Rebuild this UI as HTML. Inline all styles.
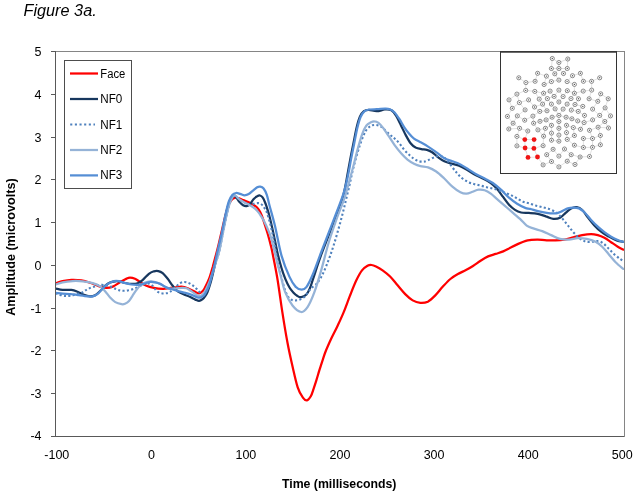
<!DOCTYPE html>
<html lang="en">
<head>
<meta charset="utf-8">
<title>Figure 3a</title>
<style>
html,body{margin:0;padding:0;background:#fff;}
body{width:637px;height:495px;overflow:hidden;font-family:"Liberation Sans", sans-serif;}
svg{display:block;}
text{font-family:"Liberation Sans", sans-serif;fill:#000;}
.tk{font-size:12.5px;}
.ax{font-size:12.5px;font-weight:bold;}
.lg{font-size:12px;}
.ln{fill:none;stroke-width:2.25;stroke-linejoin:round;stroke-linecap:round;}
</style>
</head>
<body>
<svg width="637" height="495" viewBox="0 0 637 495">
<rect width="637" height="495" fill="#fff"/>
<text x="23.5" y="16.3" font-size="15.6" font-style="italic" textLength="73.2" lengthAdjust="spacingAndGlyphs">Figure 3a.</text>

<!-- series -->
<g clip-path="url(#pc)">
<path class="ln" stroke="#ff0000" d="M55.7 283.2C56.9 282.9 60.0 281.7 62.6 281.1C65.2 280.5 68.3 279.9 71.4 279.8C74.5 279.7 78.1 279.8 81.4 280.4C84.8 281.0 88.3 282.2 91.5 283.2C94.7 284.2 97.8 285.8 100.3 286.6C102.8 287.4 104.4 287.9 106.5 287.9C108.6 287.9 110.5 287.6 112.8 286.6C115.1 285.6 118.1 283.3 120.4 282.0C122.7 280.7 125.0 279.3 126.6 278.6C128.2 277.9 128.6 277.7 130.0 277.7C131.4 277.7 133.3 278.1 135.0 278.8C136.7 279.5 138.2 280.8 140.1 282.0C142.0 283.2 144.1 284.8 146.4 285.8C148.7 286.8 151.2 287.4 153.9 287.9C156.6 288.4 160.2 288.8 162.7 288.9C165.2 289.0 166.9 288.6 169.0 288.3C171.1 288.1 173.2 287.7 175.3 287.4C177.4 287.1 179.4 286.5 181.5 286.6C183.6 286.8 185.7 287.5 187.8 288.3C189.9 289.1 192.2 290.6 194.1 291.4C196.0 292.2 197.6 293.4 199.1 293.3C200.6 293.2 201.9 291.8 202.9 290.8C203.9 289.9 204.0 289.6 205.0 287.6C206.0 285.6 207.7 282.4 209.0 279.0C210.3 275.6 211.5 271.0 212.7 267.0C213.8 263.0 214.9 258.7 215.9 255.0C216.9 251.3 217.5 249.2 218.5 245.0C219.5 240.8 220.8 235.2 222.0 230.0C223.2 224.8 224.6 218.3 225.8 214.0C227.0 209.7 227.9 206.4 229.0 204.0C230.1 201.6 231.1 200.4 232.2 199.3C233.3 198.2 234.5 197.8 235.5 197.6C236.5 197.4 236.8 197.7 238.1 198.1C239.4 198.5 241.5 199.4 243.2 200.1C244.9 200.8 246.5 201.3 248.2 202.1C249.9 202.9 251.8 203.8 253.3 204.7C254.8 205.6 256.1 206.4 257.3 207.7C258.5 208.9 259.4 210.4 260.3 212.2C261.2 214.0 262.0 215.9 262.8 218.3C263.6 220.7 264.5 223.7 265.4 226.4C266.2 229.1 267.1 231.7 267.9 234.5C268.7 237.3 269.6 240.6 270.3 243.5C271.0 246.4 271.2 246.3 272.3 252.0C273.4 257.7 275.5 267.5 277.2 277.5C278.9 287.5 280.6 300.9 282.3 311.8C284.0 322.7 285.8 333.6 287.5 342.7C289.2 351.8 290.9 359.3 292.6 366.7C294.3 374.1 296.0 382.1 297.7 387.3C299.4 392.5 301.3 395.4 302.9 397.6C304.4 399.8 305.7 400.5 307.0 400.3C308.3 400.1 309.7 398.2 310.8 396.3C311.9 394.4 312.6 391.9 313.5 389.2C314.4 386.4 315.5 383.0 316.5 379.8C317.5 376.6 318.4 373.4 319.4 370.2C320.4 367.0 321.4 363.8 322.4 360.8C323.4 357.8 323.9 355.8 325.4 352.0C326.9 348.2 329.4 342.6 331.4 338.3C333.4 334.0 335.4 330.5 337.4 326.2C339.4 321.9 341.4 317.7 343.5 312.6C345.6 307.6 347.8 301.2 349.9 295.9C352.0 290.6 354.1 285.1 356.1 280.8C358.1 276.6 360.1 272.9 362.0 270.4C363.9 267.9 365.9 266.7 367.5 265.8C369.1 264.9 370.1 264.9 371.5 265.0C372.9 265.1 374.1 265.5 376.0 266.4C377.9 267.3 380.2 268.6 382.6 270.3C385.0 272.0 387.6 274.0 390.1 276.5C392.6 279.0 395.1 282.4 397.6 285.3C400.1 288.2 402.7 291.6 405.2 294.1C407.7 296.6 410.2 298.9 412.7 300.4C415.2 301.9 417.8 302.7 420.3 302.9C422.8 303.1 425.3 302.9 427.8 301.7C430.3 300.4 432.8 297.9 435.3 295.4C437.8 292.9 440.4 289.3 442.9 286.6C445.4 283.9 447.9 281.1 450.4 279.0C452.9 276.9 455.4 275.4 457.9 274.0C460.4 272.6 463.0 271.6 465.5 270.3C468.0 269.0 470.5 267.6 473.0 266.0C475.5 264.4 478.1 262.3 480.6 260.7C483.1 259.1 485.6 257.5 488.1 256.4C490.6 255.3 493.1 254.7 495.6 253.9C498.1 253.1 500.7 252.5 503.2 251.4C505.7 250.3 508.2 248.8 510.7 247.6C513.2 246.3 515.7 245.0 518.2 243.9C520.7 242.8 523.8 241.5 525.8 240.9C527.8 240.3 528.0 240.3 530.0 240.1C532.0 239.9 535.0 239.5 537.8 239.6C540.6 239.7 543.7 240.3 546.7 240.4C549.7 240.5 552.7 240.5 555.6 240.4C558.5 240.3 561.5 240.1 564.4 239.6C567.3 239.1 570.3 238.1 573.3 237.3C576.3 236.6 579.2 235.7 582.2 235.1C585.2 234.5 588.5 234.0 591.1 234.0C593.7 234.0 595.6 234.5 597.8 235.1C600.0 235.7 602.2 236.6 604.4 237.8C606.6 239.0 608.9 240.7 611.1 242.2C613.3 243.7 615.8 245.5 617.8 246.7C619.8 247.9 622.4 249.1 623.3 249.6"/>
<path class="ln" stroke="#17375e" d="M55.7 288.6C56.9 288.8 60.0 289.7 62.6 289.9C65.2 290.1 68.9 289.6 71.4 289.9C73.9 290.2 75.5 290.9 77.6 291.7C79.7 292.5 81.8 294.1 83.9 294.9C86.0 295.7 88.3 296.3 90.2 296.4C92.1 296.4 93.5 296.1 95.2 295.2C96.9 294.3 98.6 292.4 100.3 290.8C102.0 289.2 103.7 287.1 105.3 285.7C106.9 284.3 108.4 283.2 110.0 282.5C111.6 281.8 113.3 281.5 115.0 281.3C116.7 281.1 118.3 281.2 120.0 281.5C121.7 281.8 122.9 282.6 125.0 283.0C127.1 283.4 130.4 283.9 132.5 283.9C134.6 283.9 135.9 283.8 137.6 283.2C139.3 282.6 140.7 281.7 142.6 280.1C144.5 278.5 147.0 275.3 148.9 273.8C150.8 272.3 152.3 271.8 153.9 271.3C155.5 270.9 156.8 270.8 158.3 271.1C159.8 271.4 161.1 271.9 162.7 273.2C164.3 274.5 166.0 276.7 167.7 278.8C169.4 280.9 171.0 283.7 172.7 285.8C174.4 287.9 175.9 289.9 177.8 291.4C179.7 292.8 181.9 293.6 184.0 294.5C186.1 295.4 188.4 296.2 190.3 297.1C192.2 298.0 193.8 299.0 195.3 299.6C196.8 300.2 197.8 300.9 199.1 300.8C200.4 300.7 201.9 299.6 202.9 298.9C203.9 298.2 204.2 297.5 205.0 296.4C205.8 295.2 206.6 294.2 207.5 292.0C208.4 289.8 209.5 286.5 210.5 283.0C211.5 279.5 212.5 275.2 213.5 271.0C214.5 266.8 215.7 261.5 216.5 258.0C217.3 254.5 217.6 253.8 218.5 250.0C219.4 246.2 220.8 240.8 222.0 235.0C223.2 229.2 224.6 220.3 225.8 215.0C227.0 209.7 227.9 206.0 229.0 203.0C230.1 200.0 231.5 198.2 232.5 197.0C233.5 195.8 233.9 195.3 235.0 196.0C236.1 196.7 237.5 199.7 238.8 201.2C240.2 202.7 241.8 204.4 243.1 205.2C244.4 206.0 245.4 206.3 246.6 206.1C247.8 205.9 248.9 205.2 250.1 204.0C251.3 202.8 252.5 200.4 253.7 199.1C254.9 197.8 256.1 196.9 257.2 196.3C258.2 195.7 259.1 195.3 260.0 195.5C260.9 195.7 261.9 196.3 262.8 197.7C263.8 199.1 264.6 201.1 265.7 204.0C266.8 206.9 268.1 211.5 269.2 215.3C270.2 219.1 271.0 222.7 272.0 227.0C273.0 231.3 274.0 236.3 275.0 241.0C276.0 245.7 276.9 250.5 278.0 255.0C279.1 259.5 280.3 264.0 281.5 268.0C282.7 272.0 284.1 275.9 285.4 279.2C286.7 282.4 288.2 285.3 289.5 287.5C290.8 289.7 292.0 291.0 293.3 292.4C294.6 293.8 296.2 295.2 297.5 296.0C298.8 296.8 299.7 297.4 301.2 297.1C302.7 296.9 304.9 296.0 306.4 294.5C307.9 293.0 308.9 290.6 310.0 288.0C311.1 285.4 311.8 282.7 313.0 279.2C314.2 275.7 315.7 270.9 317.0 267.0C318.3 263.1 318.9 261.0 320.9 255.6C322.9 250.2 326.3 241.6 329.0 234.6C331.7 227.6 334.6 220.2 337.0 213.6C339.4 207.0 341.7 201.4 343.4 195.0C345.1 188.6 346.3 180.9 347.4 175.0C348.5 169.1 349.2 164.8 350.2 159.6C351.2 154.3 352.3 148.9 353.4 143.5C354.5 138.1 355.6 131.8 356.7 127.3C357.8 122.8 358.7 119.5 359.9 116.8C361.1 114.1 362.4 112.3 363.9 111.2C365.4 110.1 366.6 109.9 368.8 109.9C371.0 109.9 374.1 111.3 376.8 111.2C379.5 111.1 382.5 109.7 384.9 109.5C387.3 109.3 389.5 109.2 391.4 110.3C393.3 111.4 394.6 113.4 396.2 116.0C397.8 118.6 399.5 122.5 401.1 125.7C402.7 128.9 404.3 132.4 405.9 135.4C407.5 138.4 409.2 141.5 410.8 143.5C412.4 145.5 413.9 146.6 415.6 147.5C417.4 148.4 419.4 148.7 421.3 149.1C423.2 149.5 425.1 149.4 426.9 149.9C428.7 150.4 430.2 151.0 432.1 152.2C434.0 153.4 436.2 155.8 438.2 157.3C440.2 158.8 442.3 160.3 444.3 161.3C446.3 162.3 448.0 162.7 450.3 163.4C452.6 164.1 455.7 164.4 458.4 165.4C461.1 166.4 463.8 167.9 466.5 169.4C469.2 170.9 471.9 173.0 474.6 174.5C477.3 176.0 480.0 177.1 482.7 178.5C485.4 179.9 488.4 181.3 490.8 183.0C493.2 184.7 494.8 186.3 496.8 188.6C498.8 190.9 500.9 194.0 502.9 196.7C504.9 199.4 507.0 202.6 509.0 204.8C511.0 207.0 513.0 208.6 515.0 209.9C517.0 211.2 518.8 212.0 521.1 212.5C523.4 213.0 526.1 212.7 528.9 212.9C531.7 213.1 534.8 213.2 537.8 213.8C540.8 214.4 544.1 215.8 546.7 216.7C549.3 217.5 551.1 218.7 553.3 218.9C555.5 219.1 558.0 218.8 560.0 217.8C562.0 216.8 563.8 214.5 565.6 212.9C567.5 211.3 569.2 209.4 571.1 208.4C573.0 207.4 574.9 206.8 576.7 207.1C578.6 207.4 580.4 208.3 582.2 210.0C584.1 211.7 585.8 214.7 587.8 217.3C589.8 219.9 592.2 223.0 594.4 225.4C596.6 227.8 598.7 229.8 601.1 231.7C603.5 233.6 606.3 235.1 608.9 236.6C611.5 238.1 614.3 239.5 616.7 240.4C619.1 241.3 622.2 241.6 623.3 241.8"/>
<path class="ln" stroke="#4f81bd" stroke-dasharray="2.1 2.3" style="stroke-linecap:butt;stroke-width:2.1" d="M55.7 293.0C56.0 293.1 56.5 293.5 57.5 293.9C58.5 294.3 60.5 295.0 61.9 295.4C63.3 295.8 64.3 295.9 65.7 296.0C67.1 296.1 68.4 296.1 70.1 295.8C71.8 295.6 74.0 295.1 76.0 294.5C78.0 293.9 80.7 293.2 82.4 292.4C84.1 291.6 85.1 290.6 86.4 289.9C87.7 289.1 89.0 288.5 90.4 287.9C91.8 287.3 93.3 286.9 94.6 286.4C95.9 285.9 96.8 285.3 98.4 285.1C100.0 284.9 102.1 284.8 104.0 285.0C105.9 285.2 108.1 285.9 110.0 286.5C111.9 287.1 114.0 288.2 115.6 288.9C117.2 289.5 118.4 290.1 119.8 290.4C121.2 290.7 122.6 290.8 124.1 290.8C125.5 290.8 127.1 290.6 128.5 290.3C129.9 290.0 131.3 289.6 132.7 289.2C134.1 288.8 135.4 288.3 136.7 287.7C138.0 287.1 139.2 286.4 140.5 285.8C141.8 285.2 143.1 284.4 144.5 284.0C145.9 283.6 147.7 283.4 149.0 283.6C150.3 283.9 151.3 284.7 152.3 285.5C153.3 286.3 154.0 287.6 154.8 288.6C155.6 289.6 156.1 290.6 157.1 291.4C158.1 292.2 159.6 292.9 161.0 293.2C162.4 293.5 163.9 293.6 165.3 293.4C166.7 293.2 168.1 293.1 169.6 292.2C171.1 291.3 172.8 289.4 174.5 288.0C176.2 286.6 178.1 284.5 179.7 283.5C181.2 282.5 182.5 282.1 183.8 282.0C185.2 281.9 186.6 282.2 187.8 282.6C189.1 283.0 190.2 283.8 191.3 284.5C192.5 285.2 193.6 286.1 194.7 287.0C195.8 287.9 196.8 289.1 197.8 290.1C198.8 291.1 199.6 292.3 200.5 293.0C201.4 293.7 202.2 294.5 203.0 294.5C203.8 294.5 204.5 294.9 205.5 293.0C206.5 291.1 207.8 286.3 209.0 283.0C210.2 279.7 211.3 276.5 212.5 273.0C213.7 269.5 214.8 265.8 216.0 262.0C217.2 258.2 218.3 255.2 219.5 250.0C220.7 244.8 222.0 237.3 223.3 231.0C224.6 224.7 226.0 217.2 227.3 212.0C228.6 206.8 229.8 202.8 231.0 200.0C232.2 197.2 233.2 195.7 234.5 195.5C235.8 195.3 237.2 197.7 238.5 198.6C239.8 199.5 240.8 200.2 242.0 201.0C243.2 201.8 244.6 202.7 246.0 203.3C247.4 204.0 248.8 204.9 250.3 204.9C251.8 204.9 253.3 203.8 254.8 203.5C256.3 203.2 258.0 202.9 259.3 203.2C260.6 203.5 261.7 204.4 262.6 205.4C263.6 206.4 264.2 207.7 265.0 209.0C265.8 210.3 266.3 210.9 267.1 213.2C267.9 215.5 269.0 219.2 270.0 223.0C271.0 226.8 272.1 231.7 273.0 236.0C273.9 240.3 274.7 244.5 275.5 249.0C276.3 253.5 276.8 258.3 277.8 263.0C278.8 267.7 280.1 272.4 281.3 277.0C282.5 281.6 284.0 287.2 285.2 290.5C286.4 293.8 287.2 295.4 288.3 297.0C289.4 298.6 290.4 299.2 291.7 299.8C293.0 300.4 294.5 300.5 296.0 300.4C297.5 300.3 299.0 300.0 300.5 299.3C302.0 298.6 303.7 297.6 305.0 296.3C306.3 295.0 307.3 293.0 308.5 291.5C309.7 290.0 310.7 288.8 312.0 287.5C313.3 286.2 315.4 285.1 316.5 284.0C317.6 282.9 317.8 282.6 318.9 280.8C320.0 279.1 321.7 276.1 323.0 273.5C324.3 270.9 325.4 268.1 326.6 265.1C327.8 262.1 329.1 258.8 330.3 255.4C331.5 252.0 332.7 248.3 333.9 244.5C335.1 240.7 336.3 236.6 337.5 232.4C338.7 228.2 340.1 223.3 341.2 219.1C342.3 214.8 343.3 210.9 344.3 206.9C345.3 202.9 346.2 198.8 347.2 194.8C348.1 190.8 349.1 187.0 350.0 183.0C350.9 179.0 351.6 175.1 352.6 170.9C353.6 166.7 354.8 162.3 356.0 158.0C357.2 153.7 358.6 149.0 359.9 145.1C361.2 141.2 362.7 137.3 363.9 134.6C365.1 131.9 366.0 130.4 367.2 128.9C368.4 127.4 369.9 126.4 371.2 125.7C372.5 125.0 373.8 124.9 375.2 124.9C376.6 124.9 377.9 125.1 379.3 125.7C380.7 126.3 381.8 127.0 383.5 128.5C385.2 130.0 387.9 132.9 389.8 134.6C391.7 136.3 393.0 137.1 394.6 138.6C396.2 140.1 397.9 141.6 399.5 143.5C401.1 145.4 402.7 148.0 404.3 149.9C405.9 151.8 407.6 153.3 409.2 154.8C410.8 156.3 412.4 157.7 414.0 158.8C415.6 159.9 417.3 160.7 418.9 161.2C420.5 161.7 422.2 161.7 423.7 161.6C425.2 161.5 425.9 161.1 427.7 160.4C429.4 159.7 432.1 158.0 434.2 157.3C436.2 156.6 438.0 155.7 440.0 156.0C442.0 156.3 443.9 157.1 446.0 159.0C448.1 160.9 450.5 165.0 452.4 167.4C454.3 169.8 455.7 171.7 457.4 173.5C459.1 175.3 460.6 177.1 462.5 178.5C464.4 179.9 466.5 181.2 468.5 182.2C470.5 183.1 472.6 183.6 474.6 184.2C476.6 184.8 478.7 185.1 480.7 185.6C482.7 186.1 484.7 186.7 486.7 187.2C488.7 187.7 490.8 188.1 492.8 188.6C494.8 189.1 496.9 189.6 498.9 190.3C500.9 191.0 502.9 191.9 504.9 192.7C506.9 193.5 509.0 194.1 511.0 195.1C513.0 196.1 515.1 197.3 517.1 198.4C519.1 199.5 521.1 201.0 523.1 201.8C525.1 202.6 526.8 202.7 528.9 203.3C531.0 203.9 533.4 205.0 535.6 205.6C537.8 206.2 540.0 206.5 542.2 207.1C544.4 207.7 546.7 208.1 548.9 208.9C551.1 209.8 553.8 211.0 555.6 212.2C557.5 213.4 558.5 214.5 560.0 216.0C561.5 217.5 562.9 219.3 564.4 221.1C565.9 222.9 567.4 224.8 568.9 226.7C570.4 228.5 571.8 230.5 573.3 232.2C574.8 233.9 576.3 235.4 577.8 236.7C579.3 238.0 580.7 239.2 582.2 240.0C583.7 240.8 585.0 241.5 586.7 241.8C588.4 242.1 590.4 241.9 592.2 241.8C594.1 241.7 595.9 240.8 597.8 241.1C599.6 241.3 601.4 242.0 603.3 243.3C605.1 244.6 607.0 247.1 608.9 248.9C610.8 250.8 612.5 252.7 614.4 254.4C616.2 256.1 618.5 257.8 620.0 258.9C621.5 260.0 622.8 260.7 623.3 261.1"/>
<path class="ln" stroke="#95b3d7" d="M55.7 284.5C56.9 284.1 59.8 283.0 62.6 282.4C65.4 281.8 69.2 281.3 72.6 281.1C75.9 280.9 79.3 281.0 82.7 281.4C86.1 281.8 89.8 282.4 92.7 283.2C95.6 284.0 98.2 285.0 100.3 286.4C102.4 287.8 103.6 289.5 105.3 291.4C107.0 293.3 108.6 295.9 110.3 297.7C112.0 299.5 113.4 301.0 115.3 302.1C117.2 303.2 120.0 303.9 121.6 304.2C123.2 304.5 123.8 304.3 125.0 303.8C126.2 303.3 127.8 302.3 129.0 301.0C130.2 299.7 131.3 297.6 132.5 295.8C133.7 294.0 135.0 291.8 136.3 290.1C137.6 288.4 138.6 286.9 140.1 285.7C141.6 284.4 143.4 283.3 145.1 282.6C146.8 281.9 148.4 281.5 150.1 281.4C151.8 281.3 153.2 281.5 155.1 282.0C157.0 282.5 159.3 283.4 161.4 284.5C163.5 285.6 165.4 287.6 167.7 288.3C170.0 289.0 172.9 288.7 175.2 288.6C177.5 288.5 179.6 287.9 181.5 287.9C183.4 287.8 184.8 287.7 186.5 288.3C188.2 288.9 189.9 290.3 191.6 291.4C193.3 292.5 195.1 294.2 196.6 294.9C198.1 295.6 199.2 296.0 200.4 295.8C201.6 295.6 202.7 294.6 203.5 293.9C204.3 293.2 204.1 293.2 205.0 291.4C205.9 289.6 207.8 286.1 209.0 283.0C210.2 279.9 211.3 276.5 212.5 273.0C213.7 269.5 214.8 265.8 216.0 262.0C217.2 258.2 218.3 255.2 219.5 250.0C220.7 244.8 222.0 237.3 223.3 231.0C224.6 224.7 226.0 217.2 227.3 212.0C228.6 206.8 229.8 202.6 231.0 199.8C232.2 197.1 233.3 195.7 234.6 195.5C235.9 195.3 237.2 197.6 238.8 198.8C240.5 200.0 242.6 201.4 244.5 202.5C246.4 203.6 248.3 204.4 250.1 205.4C251.8 206.4 253.6 207.4 255.0 208.6C256.4 209.8 257.4 211.0 258.5 212.4C259.6 213.8 260.5 215.3 261.5 216.9C262.5 218.5 263.5 220.0 264.5 222.0C265.5 224.0 266.7 226.6 267.7 229.0C268.7 231.4 269.6 233.2 270.7 236.5C271.8 239.8 272.9 244.6 274.0 249.0C275.1 253.4 276.1 258.3 277.3 263.0C278.5 267.7 279.7 272.1 281.0 277.0C282.3 281.9 283.4 287.6 285.3 292.4C287.2 297.1 289.9 302.2 292.5 305.5C295.1 308.8 298.7 311.8 301.2 312.0C303.7 312.2 305.5 310.1 307.7 306.8C309.9 303.5 312.1 298.3 314.3 292.4C316.5 286.5 318.5 279.7 320.9 271.4C323.3 263.1 326.1 251.2 328.7 242.5C331.3 233.8 334.0 226.3 336.6 218.9C339.2 211.5 342.1 205.2 344.5 197.9C346.9 190.6 349.4 180.8 351.0 175.0C352.6 169.2 353.0 167.6 354.2 162.9C355.4 158.2 356.9 151.5 358.3 146.7C359.7 141.8 361.0 137.3 362.3 133.8C363.6 130.3 365.0 127.6 366.3 125.7C367.6 123.8 369.0 123.2 370.4 122.5C371.8 121.8 373.0 121.2 374.4 121.3C375.8 121.3 377.0 121.7 378.5 122.8C380.0 123.9 381.7 126.0 383.3 128.1C384.9 130.2 386.3 132.6 388.2 135.4C390.1 138.2 392.5 142.1 394.6 145.1C396.8 148.1 399.0 150.8 401.1 153.2C403.2 155.6 405.4 157.8 407.5 159.6C409.6 161.3 411.8 162.6 414.0 163.7C416.2 164.8 418.1 165.5 420.5 166.1C422.9 166.7 425.5 166.5 428.1 167.4C430.7 168.3 433.5 169.7 436.2 171.5C438.9 173.3 441.6 176.0 444.3 178.5C447.0 181.0 449.7 184.3 452.4 186.6C455.1 188.9 458.0 191.1 460.4 192.3C462.8 193.5 464.5 193.8 466.5 193.7C468.5 193.6 470.6 192.4 472.6 191.7C474.6 191.0 476.6 189.9 478.6 189.7C480.6 189.5 482.7 189.6 484.7 190.3C486.7 191.0 488.8 192.3 490.8 193.7C492.8 195.1 494.5 196.8 496.8 198.8C499.1 200.8 502.2 203.5 504.9 205.8C507.6 208.2 510.5 210.7 513.0 212.9C515.5 215.1 517.7 216.8 520.0 218.9C522.3 221.0 524.5 224.0 526.7 225.6C528.9 227.2 530.7 227.5 533.3 228.4C535.9 229.3 539.2 230.0 542.2 231.1C545.2 232.2 548.1 233.8 551.1 235.1C554.1 236.4 557.0 238.2 560.0 238.9C563.0 239.7 565.9 239.7 568.9 239.6C571.9 239.5 574.8 238.3 577.8 238.2C580.8 238.1 583.7 238.3 586.7 238.9C589.7 239.5 593.0 240.5 595.6 241.8C598.2 243.1 600.0 244.6 602.2 246.7C604.4 248.8 606.7 251.8 608.9 254.4C611.1 257.0 613.2 259.8 615.6 262.2C618.0 264.6 622.0 267.8 623.3 268.9"/>
<path class="ln" stroke="#558ed5" d="M55.7 292.9C56.9 293.0 60.0 293.5 62.6 293.7C65.2 293.9 68.7 293.9 71.4 294.2C74.1 294.4 76.2 294.8 78.9 295.2C81.6 295.6 85.4 296.2 87.7 296.4C90.0 296.6 91.0 296.8 92.7 296.4C94.4 296.0 96.0 295.2 97.7 293.9C99.4 292.5 101.1 290.0 102.8 288.3C104.5 286.6 105.9 285.1 107.8 283.9C109.7 282.7 112.1 281.6 114.0 281.1C115.9 280.6 117.1 280.8 119.0 281.1C120.9 281.5 123.4 282.6 125.4 283.2C127.5 283.8 129.3 284.2 131.3 284.5C133.3 284.8 135.5 285.0 137.6 284.9C139.7 284.8 141.7 284.4 143.8 283.9C145.9 283.4 148.2 282.2 150.1 282.0C152.0 281.8 153.4 282.1 155.1 282.4C156.8 282.7 158.3 283.1 160.2 283.9C162.1 284.7 164.3 286.5 166.4 287.4C168.5 288.3 170.6 288.8 172.7 289.5C174.8 290.2 176.9 290.8 179.0 291.4C181.1 292.0 183.2 292.3 185.3 292.9C187.4 293.5 189.7 294.2 191.6 294.9C193.5 295.6 195.1 296.6 196.6 297.1C198.1 297.6 199.2 297.9 200.4 297.7C201.6 297.5 202.7 296.4 203.5 295.8C204.3 295.2 204.2 295.4 205.0 293.9C205.8 292.4 207.4 289.8 208.5 287.0C209.6 284.2 210.5 280.7 211.5 277.0C212.5 273.3 213.4 269.5 214.5 265.0C215.6 260.5 216.6 255.2 217.8 250.0C219.0 244.8 220.3 239.7 221.6 233.7C222.9 227.7 224.4 219.3 225.6 213.9C226.8 208.5 227.8 204.4 228.9 201.2C230.1 198.0 231.3 196.2 232.5 194.8C233.7 193.4 234.7 193.2 236.0 193.0C237.3 192.8 238.8 193.5 240.2 193.9C241.6 194.3 243.1 195.3 244.5 195.3C245.9 195.3 247.3 194.9 248.7 194.1C250.1 193.3 251.6 191.7 253.0 190.6C254.4 189.5 256.0 188.0 257.2 187.3C258.4 186.6 259.2 186.4 260.3 186.6C261.4 186.8 262.5 187.1 263.6 188.5C264.7 189.9 265.8 192.0 266.8 194.8C267.8 197.6 268.1 200.3 269.5 205.5C270.9 210.7 273.0 217.7 275.0 226.0C277.0 234.3 279.1 247.2 281.5 255.6C283.9 264.0 287.0 271.4 289.4 276.6C291.8 281.9 293.8 284.9 295.9 287.1C297.9 289.3 299.9 289.7 301.7 289.7C303.4 289.7 304.5 289.7 306.4 287.1C308.3 284.5 310.6 279.7 313.0 274.0C315.4 268.3 318.2 260.0 320.9 253.0C323.6 246.0 326.3 239.0 329.0 232.0C331.7 225.0 334.6 217.6 337.1 211.0C339.6 204.4 342.0 198.6 343.8 192.6C345.6 186.6 346.9 180.5 348.1 175.0C349.3 169.5 350.0 164.8 351.0 159.6C352.0 154.3 353.1 148.9 354.2 143.5C355.3 138.1 356.4 131.8 357.5 127.3C358.6 122.8 359.5 119.5 360.7 116.8C361.9 114.1 363.2 112.4 364.7 111.2C366.2 110.0 367.6 109.8 369.6 109.5C371.6 109.2 374.2 109.3 376.8 109.2C379.4 109.1 382.7 108.7 384.9 108.7C387.1 108.7 388.2 108.6 389.8 109.2C391.4 109.8 393.0 110.7 394.6 112.4C396.2 114.1 397.9 116.7 399.5 119.2C401.1 121.7 402.7 124.9 404.3 127.3C405.9 129.7 407.6 131.9 409.2 133.8C410.8 135.7 412.1 137.2 414.0 138.6C415.9 140.0 418.1 140.9 420.5 142.2C422.9 143.5 425.5 144.9 428.1 146.6C430.7 148.3 433.5 150.2 436.2 152.2C438.9 154.1 441.6 156.8 444.3 158.3C447.0 159.8 449.7 160.3 452.4 161.3C455.1 162.3 457.7 163.1 460.4 164.4C463.1 165.8 465.8 167.7 468.5 169.4C471.2 171.1 473.9 173.0 476.6 174.5C479.3 176.0 482.0 177.1 484.7 178.5C487.4 179.9 490.1 181.1 492.8 183.0C495.5 184.9 498.2 187.2 500.9 189.7C503.6 192.1 506.3 195.3 509.0 197.7C511.7 200.0 514.4 202.1 517.1 203.8C519.8 205.5 523.1 207.1 525.2 207.9C527.4 208.8 527.9 208.4 530.0 208.9C532.1 209.4 535.0 210.4 537.8 211.1C540.6 211.8 543.7 212.5 546.7 212.9C549.7 213.3 553.0 213.6 555.6 213.3C558.2 213.0 560.2 211.9 562.2 211.1C564.2 210.3 565.9 209.0 567.8 208.4C569.6 207.8 571.4 207.6 573.3 207.6C575.1 207.6 577.0 207.6 578.9 208.4C580.8 209.2 582.4 210.3 584.4 212.2C586.4 214.1 588.9 217.6 591.1 220.0C593.3 222.4 595.6 224.7 597.8 226.7C600.0 228.7 602.2 230.5 604.4 232.2C606.6 233.9 608.9 235.4 611.1 236.7C613.3 238.0 615.8 239.2 617.8 240.0C619.8 240.8 622.4 241.5 623.3 241.8"/>
</g>

<!-- axes -->
<g stroke="#595959" stroke-width="1" fill="none" shape-rendering="crispEdges">
<path d="M55.5 51.5V436.5"/>
<path d="M55.5 436.5H624.5"/>
<path d="M55.5 51.5H624.5V436.5" stroke="#858585"/>
<path d="M51 51.5H55.5M51 94.5H55.5M51 137.5H55.5M51 179.5H55.5M51 222.5H55.5M51 265.5H55.5M51 308.5H55.5M51 350.5H55.5M51 393.5H55.5M51 436.5H55.5"/>
</g>

<!-- y tick labels -->
<g class="tk" text-anchor="end">
<text x="41.5" y="56">5</text>
<text x="41.5" y="98.7">4</text>
<text x="41.5" y="141.5">3</text>
<text x="41.5" y="184.2">2</text>
<text x="41.5" y="227">1</text>
<text x="41.5" y="269.7">0</text>
<text x="41.5" y="312.5">-1</text>
<text x="41.5" y="355.2">-2</text>
<text x="41.5" y="398">-3</text>
<text x="41.5" y="440.3">-4</text>
</g>
<!-- x tick labels -->
<g class="tk" text-anchor="middle">
<text x="56.8" y="459.4">-100</text>
<text x="151.4" y="459.4">0</text>
<text x="245.9" y="459.4">100</text>
<text x="340" y="459.4">200</text>
<text x="434.1" y="459.4">300</text>
<text x="528.2" y="459.4">400</text>
<text x="622.3" y="459.4">500</text>
</g>
<text class="ax" x="339.2" y="487.9" text-anchor="middle" textLength="114.5" lengthAdjust="spacingAndGlyphs">Time (milliseconds)</text>
<text class="ax" transform="translate(15.4 247.1) rotate(-90)" text-anchor="middle" textLength="137.4" lengthAdjust="spacingAndGlyphs">Amplitude (microvolts)</text>

<!-- legend -->
<rect x="64.5" y="60.5" width="67" height="128" fill="#fff" stroke="#4d4d4d" stroke-width="1" shape-rendering="crispEdges"/>
<g class="ln" style="stroke-linecap:butt">
<path stroke="#ff0000" d="M70 73.5H98"/>
<path stroke="#17375e" d="M70 99H98"/>
<path stroke="#4f81bd" stroke-dasharray="2.1 2.55" style="stroke-width:2.1" d="M70.2 124.5H95"/>
<path stroke="#95b3d7" d="M70 150H98"/>
<path stroke="#558ed5" d="M70 175.4H98"/>
</g>
<g class="lg">
<text x="100.3" y="77.8" textLength="25" lengthAdjust="spacingAndGlyphs">Face</text>
<text x="100.3" y="103.2" textLength="22" lengthAdjust="spacingAndGlyphs">NF0</text>
<text x="100.3" y="128.6" textLength="22" lengthAdjust="spacingAndGlyphs">NF1</text>
<text x="100.3" y="154" textLength="22" lengthAdjust="spacingAndGlyphs">NF2</text>
<text x="100.3" y="179.4" textLength="22" lengthAdjust="spacingAndGlyphs">NF3</text>
</g>

<!-- electrode inset -->
<rect x="500.5" y="51.5" width="116" height="122" fill="#fff" stroke="#333" stroke-width="1" shape-rendering="crispEdges"/>
<path d="M500 52H617" stroke="#3a3a3a" stroke-width="1.5" fill="none"/>
<path d="M552.3 58.5 L558.9 62.5M552.3 58.5 L551.4 68.5M558.9 62.5 L558.9 68.5M558.9 62.5 L567.8 59.0M551.4 68.5 L558.9 68.5M551.4 68.5 L554.8 73.8M558.9 68.5 L554.8 73.8M558.9 68.5 L567.3 68.5M558.9 68.5 L563.5 73.5M554.8 73.8 L558.9 80.1M537.6 73.3 L546.4 76.1M537.6 73.3 L535.1 81.3M546.4 76.1 L551.4 81.6M546.4 76.1 L544.1 84.5M518.8 77.8 L525.9 82.6M525.9 82.6 L535.1 81.3M525.9 82.6 L525.7 90.4M551.4 81.6 L558.9 80.1M551.4 81.6 L544.1 84.5M525.7 90.4 L534.8 91.4M525.7 90.4 L516.9 94.1M534.8 91.4 L543.6 93.2M534.8 91.4 L539.2 99.1M543.6 93.2 L550.1 91.1M543.6 93.2 L539.2 99.1M543.6 93.2 L547.4 98.6M550.1 91.1 L554.1 96.4M558.9 90.1 L554.1 96.4M558.9 90.1 L563.1 96.6M516.9 94.1 L509.0 99.9M516.9 94.1 L519.4 102.6M554.1 96.4 L547.4 98.6M554.1 96.4 L558.9 102.0M509.0 99.9 L512.3 108.3M519.4 102.6 L528.6 99.9M519.4 102.6 L512.3 108.3M519.4 102.6 L525.1 109.9M528.6 99.9 L534.5 107.0M539.2 99.1 L542.6 104.1M547.4 98.6 L542.6 104.1M547.4 98.6 L551.4 104.1M542.6 104.1 L534.5 107.0M542.6 104.1 L547.0 110.8M551.4 104.1 L555.1 108.9M558.9 102.0 L563.1 96.6M512.3 108.3 L507.4 116.4M525.1 109.9 L517.3 115.9M534.5 107.0 L539.8 111.4M555.1 108.9 L558.9 115.4M547.0 110.8 L539.8 111.4M539.8 111.4 L532.9 116.1M567.8 59.0 L567.3 68.5M567.3 68.5 L563.5 73.5M572.5 75.7 L580.4 73.3M572.5 75.7 L567.1 81.6M580.4 73.3 L583.4 81.3M599.7 77.8 L591.6 81.3M567.1 81.6 L574.4 84.4M574.4 84.4 L574.4 93.2M583.4 81.3 L591.6 81.3M591.6 81.3 L591.7 90.1M567.3 90.7 L574.4 93.2M567.3 90.7 L563.1 96.6M574.4 93.2 L583.2 91.1M574.4 93.2 L571.0 98.6M574.4 93.2 L578.5 98.8M583.2 91.1 L591.7 90.1M591.7 90.1 L589.1 98.8M600.7 93.8 L608.2 98.8M600.7 93.8 L597.8 101.3M571.0 98.6 L567.1 104.1M578.5 98.8 L575.0 104.5M589.1 98.8 L597.8 101.3M608.2 98.8 L605.1 107.9M597.8 101.3 L592.6 109.1M567.1 104.1 L563.1 109.1M575.0 104.5 L582.8 106.4M575.0 104.5 L571.3 110.1M582.8 106.4 L578.2 111.4M563.1 109.1 L558.9 115.4M571.3 110.1 L578.2 111.4M578.2 111.4 L584.5 115.4M592.6 109.1 L599.7 115.4M605.1 107.9 L599.7 115.4M605.1 107.9 L610.5 115.9M507.4 116.4 L513.1 123.2M517.3 115.9 L513.1 123.2M517.3 115.9 L524.7 120.2M532.9 116.1 L524.7 120.2M532.9 116.1 L533.6 123.2M552.1 117.2 L558.9 115.4M552.1 117.2 L546.1 119.9M558.9 115.4 L558.9 121.5M558.9 115.4 L566.1 117.2M513.1 123.2 L508.8 129.0M513.1 123.2 L519.6 128.3M533.6 123.2 L540.0 121.3M533.6 123.2 L537.9 129.9M540.0 121.3 L546.1 119.9M546.1 119.9 L551.5 125.3M558.9 121.5 L558.9 128.3M508.8 129.0 L519.6 128.3M519.6 128.3 L527.8 131.0M519.6 128.3 L516.9 136.4M527.8 131.0 L524.8 139.6M537.9 129.9 L545.4 128.3M537.9 129.9 L543.6 136.2M545.4 128.3 L551.5 125.3M545.4 128.3 L543.6 136.2M551.5 125.3 L551.5 133.1M558.9 128.3 L558.9 135.1M516.9 136.4 L516.9 145.9M516.9 136.4 L524.8 139.6M543.6 136.2 L543.1 145.7M551.5 133.1 L551.5 140.2M558.9 135.1 L558.9 141.2M551.5 140.2 L558.9 141.2M516.9 145.9 L525.1 148.0M543.1 145.7 L533.9 148.4M553.1 149.3 L546.7 154.7M553.1 149.3 L558.9 156.1M546.7 154.7 L551.5 161.5M558.9 156.1 L564.5 149.0M551.5 161.5 L543.1 164.9M551.5 161.5 L558.9 166.9M543.1 164.9 L537.5 157.0M558.9 166.9 L567.2 161.2M566.1 117.2 L571.9 118.8M571.9 118.8 L577.7 120.9M584.5 115.4 L584.1 122.6M599.7 115.4 L592.6 119.9M599.7 115.4 L604.8 121.5M610.5 115.9 L604.8 121.5M577.7 120.9 L584.1 122.6M584.1 122.6 L592.6 119.9M584.1 122.6 L580.5 129.3M604.8 121.5 L598.1 127.2M604.8 121.5 L608.5 128.0M566.5 125.3 L573.3 127.6M566.5 125.3 L566.5 132.6M573.3 127.6 L580.5 129.3M573.3 127.6 L574.4 135.5M589.5 130.3 L598.1 127.2M589.5 130.3 L592.5 138.5M598.1 127.2 L608.5 128.0M598.1 127.2 L600.4 135.5M566.5 132.6 L567.2 139.4M574.4 135.5 L567.2 139.4M583.4 138.5 L592.5 138.5M583.4 138.5 L583.4 147.5M592.5 138.5 L600.4 135.5M592.5 138.5 L592.5 147.3M600.4 135.5 L600.4 144.8M567.2 139.4 L574.4 145.2M574.4 145.2 L583.4 147.5M583.4 147.5 L592.5 147.3M592.5 147.3 L600.4 144.8M592.5 147.3 L589.5 156.5M564.5 149.0 L571.2 154.7M571.2 154.7 L580.1 157.0M571.2 154.7 L567.2 161.2M580.1 157.0 L589.5 156.5M580.1 157.0 L575.0 164.5M567.2 161.2 L575.0 164.5M524.8 139.6 L534.1 139.6M524.8 139.6 L525.1 148.0M534.1 139.6 L533.9 148.4M525.1 148.0 L533.9 148.4M525.1 148.0 L528.0 157.4M533.9 148.4 L537.5 157.0M528.0 157.4 L537.5 157.0" stroke="#c4c4c4" stroke-width="0.5" fill="none"/>
<g fill="#fff" stroke="#666" stroke-width="0.75"><circle cx="552.3" cy="58.5" r="2.05"/><circle cx="558.9" cy="62.5" r="2.05"/><circle cx="551.4" cy="68.5" r="2.05"/><circle cx="558.9" cy="68.5" r="2.05"/><circle cx="554.8" cy="73.8" r="2.05"/><circle cx="537.6" cy="73.3" r="2.05"/><circle cx="546.4" cy="76.1" r="2.05"/><circle cx="518.8" cy="77.8" r="2.05"/><circle cx="525.9" cy="82.6" r="2.05"/><circle cx="535.1" cy="81.3" r="2.05"/><circle cx="551.4" cy="81.6" r="2.05"/><circle cx="558.9" cy="80.1" r="2.05"/><circle cx="544.1" cy="84.5" r="2.05"/><circle cx="525.7" cy="90.4" r="2.05"/><circle cx="534.8" cy="91.4" r="2.05"/><circle cx="543.6" cy="93.2" r="2.05"/><circle cx="550.1" cy="91.1" r="2.05"/><circle cx="558.9" cy="90.1" r="2.05"/><circle cx="516.9" cy="94.1" r="2.05"/><circle cx="554.1" cy="96.4" r="2.05"/><circle cx="509.0" cy="99.9" r="2.05"/><circle cx="519.4" cy="102.6" r="2.05"/><circle cx="528.6" cy="99.9" r="2.05"/><circle cx="539.2" cy="99.1" r="2.05"/><circle cx="547.4" cy="98.6" r="2.05"/><circle cx="542.6" cy="104.1" r="2.05"/><circle cx="551.4" cy="104.1" r="2.05"/><circle cx="558.9" cy="102.0" r="2.05"/><circle cx="512.3" cy="108.3" r="2.05"/><circle cx="525.1" cy="109.9" r="2.05"/><circle cx="534.5" cy="107.0" r="2.05"/><circle cx="555.1" cy="108.9" r="2.05"/><circle cx="547.0" cy="110.8" r="2.05"/><circle cx="539.8" cy="111.4" r="2.05"/><circle cx="567.8" cy="59.0" r="2.05"/><circle cx="567.3" cy="68.5" r="2.05"/><circle cx="563.5" cy="73.5" r="2.05"/><circle cx="572.5" cy="75.7" r="2.05"/><circle cx="580.4" cy="73.3" r="2.05"/><circle cx="599.7" cy="77.8" r="2.05"/><circle cx="567.1" cy="81.6" r="2.05"/><circle cx="574.4" cy="84.4" r="2.05"/><circle cx="583.4" cy="81.3" r="2.05"/><circle cx="591.6" cy="81.3" r="2.05"/><circle cx="567.3" cy="90.7" r="2.05"/><circle cx="574.4" cy="93.2" r="2.05"/><circle cx="583.2" cy="91.1" r="2.05"/><circle cx="591.7" cy="90.1" r="2.05"/><circle cx="600.7" cy="93.8" r="2.05"/><circle cx="563.1" cy="96.6" r="2.05"/><circle cx="571.0" cy="98.6" r="2.05"/><circle cx="578.5" cy="98.8" r="2.05"/><circle cx="589.1" cy="98.8" r="2.05"/><circle cx="608.2" cy="98.8" r="2.05"/><circle cx="597.8" cy="101.3" r="2.05"/><circle cx="567.1" cy="104.1" r="2.05"/><circle cx="575.0" cy="104.5" r="2.05"/><circle cx="582.8" cy="106.4" r="2.05"/><circle cx="563.1" cy="109.1" r="2.05"/><circle cx="571.3" cy="110.1" r="2.05"/><circle cx="578.2" cy="111.4" r="2.05"/><circle cx="592.6" cy="109.1" r="2.05"/><circle cx="605.1" cy="107.9" r="2.05"/><circle cx="507.4" cy="116.4" r="2.05"/><circle cx="517.3" cy="115.9" r="2.05"/><circle cx="532.9" cy="116.1" r="2.05"/><circle cx="552.1" cy="117.2" r="2.05"/><circle cx="558.9" cy="115.4" r="2.05"/><circle cx="513.1" cy="123.2" r="2.05"/><circle cx="524.7" cy="120.2" r="2.05"/><circle cx="533.6" cy="123.2" r="2.05"/><circle cx="540.0" cy="121.3" r="2.05"/><circle cx="546.1" cy="119.9" r="2.05"/><circle cx="558.9" cy="121.5" r="2.05"/><circle cx="508.8" cy="129.0" r="2.05"/><circle cx="519.6" cy="128.3" r="2.05"/><circle cx="527.8" cy="131.0" r="2.05"/><circle cx="537.9" cy="129.9" r="2.05"/><circle cx="545.4" cy="128.3" r="2.05"/><circle cx="551.5" cy="125.3" r="2.05"/><circle cx="558.9" cy="128.3" r="2.05"/><circle cx="516.9" cy="136.4" r="2.05"/><circle cx="543.6" cy="136.2" r="2.05"/><circle cx="551.5" cy="133.1" r="2.05"/><circle cx="558.9" cy="135.1" r="2.05"/><circle cx="551.5" cy="140.2" r="2.05"/><circle cx="558.9" cy="141.2" r="2.05"/><circle cx="516.9" cy="145.9" r="2.05"/><circle cx="543.1" cy="145.7" r="2.05"/><circle cx="553.1" cy="149.3" r="2.05"/><circle cx="546.7" cy="154.7" r="2.05"/><circle cx="558.9" cy="156.1" r="2.05"/><circle cx="551.5" cy="161.5" r="2.05"/><circle cx="543.1" cy="164.9" r="2.05"/><circle cx="558.9" cy="166.9" r="2.05"/><circle cx="566.1" cy="117.2" r="2.05"/><circle cx="571.9" cy="118.8" r="2.05"/><circle cx="584.5" cy="115.4" r="2.05"/><circle cx="599.7" cy="115.4" r="2.05"/><circle cx="610.5" cy="115.9" r="2.05"/><circle cx="577.7" cy="120.9" r="2.05"/><circle cx="584.1" cy="122.6" r="2.05"/><circle cx="592.6" cy="119.9" r="2.05"/><circle cx="604.8" cy="121.5" r="2.05"/><circle cx="566.5" cy="125.3" r="2.05"/><circle cx="573.3" cy="127.6" r="2.05"/><circle cx="580.5" cy="129.3" r="2.05"/><circle cx="589.5" cy="130.3" r="2.05"/><circle cx="598.1" cy="127.2" r="2.05"/><circle cx="608.5" cy="128.0" r="2.05"/><circle cx="566.5" cy="132.6" r="2.05"/><circle cx="574.4" cy="135.5" r="2.05"/><circle cx="583.4" cy="138.5" r="2.05"/><circle cx="592.5" cy="138.5" r="2.05"/><circle cx="600.4" cy="135.5" r="2.05"/><circle cx="567.2" cy="139.4" r="2.05"/><circle cx="574.4" cy="145.2" r="2.05"/><circle cx="583.4" cy="147.5" r="2.05"/><circle cx="592.5" cy="147.3" r="2.05"/><circle cx="600.4" cy="144.8" r="2.05"/><circle cx="564.5" cy="149.0" r="2.05"/><circle cx="571.2" cy="154.7" r="2.05"/><circle cx="580.1" cy="157.0" r="2.05"/><circle cx="589.5" cy="156.5" r="2.05"/><circle cx="567.2" cy="161.2" r="2.05"/><circle cx="575.0" cy="164.5" r="2.05"/></g>
<g fill="#555"><circle cx="552.3" cy="58.5" r="0.7"/><circle cx="558.9" cy="62.5" r="0.7"/><circle cx="551.4" cy="68.5" r="0.7"/><circle cx="558.9" cy="68.5" r="0.7"/><circle cx="554.8" cy="73.8" r="0.7"/><circle cx="537.6" cy="73.3" r="0.7"/><circle cx="546.4" cy="76.1" r="0.7"/><circle cx="518.8" cy="77.8" r="0.7"/><circle cx="525.9" cy="82.6" r="0.7"/><circle cx="535.1" cy="81.3" r="0.7"/><circle cx="551.4" cy="81.6" r="0.7"/><circle cx="558.9" cy="80.1" r="0.7"/><circle cx="544.1" cy="84.5" r="0.7"/><circle cx="525.7" cy="90.4" r="0.7"/><circle cx="534.8" cy="91.4" r="0.7"/><circle cx="543.6" cy="93.2" r="0.7"/><circle cx="550.1" cy="91.1" r="0.7"/><circle cx="558.9" cy="90.1" r="0.7"/><circle cx="516.9" cy="94.1" r="0.7"/><circle cx="554.1" cy="96.4" r="0.7"/><circle cx="509.0" cy="99.9" r="0.7"/><circle cx="519.4" cy="102.6" r="0.7"/><circle cx="528.6" cy="99.9" r="0.7"/><circle cx="539.2" cy="99.1" r="0.7"/><circle cx="547.4" cy="98.6" r="0.7"/><circle cx="542.6" cy="104.1" r="0.7"/><circle cx="551.4" cy="104.1" r="0.7"/><circle cx="558.9" cy="102.0" r="0.7"/><circle cx="512.3" cy="108.3" r="0.7"/><circle cx="525.1" cy="109.9" r="0.7"/><circle cx="534.5" cy="107.0" r="0.7"/><circle cx="555.1" cy="108.9" r="0.7"/><circle cx="547.0" cy="110.8" r="0.7"/><circle cx="539.8" cy="111.4" r="0.7"/><circle cx="567.8" cy="59.0" r="0.7"/><circle cx="567.3" cy="68.5" r="0.7"/><circle cx="563.5" cy="73.5" r="0.7"/><circle cx="572.5" cy="75.7" r="0.7"/><circle cx="580.4" cy="73.3" r="0.7"/><circle cx="599.7" cy="77.8" r="0.7"/><circle cx="567.1" cy="81.6" r="0.7"/><circle cx="574.4" cy="84.4" r="0.7"/><circle cx="583.4" cy="81.3" r="0.7"/><circle cx="591.6" cy="81.3" r="0.7"/><circle cx="567.3" cy="90.7" r="0.7"/><circle cx="574.4" cy="93.2" r="0.7"/><circle cx="583.2" cy="91.1" r="0.7"/><circle cx="591.7" cy="90.1" r="0.7"/><circle cx="600.7" cy="93.8" r="0.7"/><circle cx="563.1" cy="96.6" r="0.7"/><circle cx="571.0" cy="98.6" r="0.7"/><circle cx="578.5" cy="98.8" r="0.7"/><circle cx="589.1" cy="98.8" r="0.7"/><circle cx="608.2" cy="98.8" r="0.7"/><circle cx="597.8" cy="101.3" r="0.7"/><circle cx="567.1" cy="104.1" r="0.7"/><circle cx="575.0" cy="104.5" r="0.7"/><circle cx="582.8" cy="106.4" r="0.7"/><circle cx="563.1" cy="109.1" r="0.7"/><circle cx="571.3" cy="110.1" r="0.7"/><circle cx="578.2" cy="111.4" r="0.7"/><circle cx="592.6" cy="109.1" r="0.7"/><circle cx="605.1" cy="107.9" r="0.7"/><circle cx="507.4" cy="116.4" r="0.7"/><circle cx="517.3" cy="115.9" r="0.7"/><circle cx="532.9" cy="116.1" r="0.7"/><circle cx="552.1" cy="117.2" r="0.7"/><circle cx="558.9" cy="115.4" r="0.7"/><circle cx="513.1" cy="123.2" r="0.7"/><circle cx="524.7" cy="120.2" r="0.7"/><circle cx="533.6" cy="123.2" r="0.7"/><circle cx="540.0" cy="121.3" r="0.7"/><circle cx="546.1" cy="119.9" r="0.7"/><circle cx="558.9" cy="121.5" r="0.7"/><circle cx="508.8" cy="129.0" r="0.7"/><circle cx="519.6" cy="128.3" r="0.7"/><circle cx="527.8" cy="131.0" r="0.7"/><circle cx="537.9" cy="129.9" r="0.7"/><circle cx="545.4" cy="128.3" r="0.7"/><circle cx="551.5" cy="125.3" r="0.7"/><circle cx="558.9" cy="128.3" r="0.7"/><circle cx="516.9" cy="136.4" r="0.7"/><circle cx="543.6" cy="136.2" r="0.7"/><circle cx="551.5" cy="133.1" r="0.7"/><circle cx="558.9" cy="135.1" r="0.7"/><circle cx="551.5" cy="140.2" r="0.7"/><circle cx="558.9" cy="141.2" r="0.7"/><circle cx="516.9" cy="145.9" r="0.7"/><circle cx="543.1" cy="145.7" r="0.7"/><circle cx="553.1" cy="149.3" r="0.7"/><circle cx="546.7" cy="154.7" r="0.7"/><circle cx="558.9" cy="156.1" r="0.7"/><circle cx="551.5" cy="161.5" r="0.7"/><circle cx="543.1" cy="164.9" r="0.7"/><circle cx="558.9" cy="166.9" r="0.7"/><circle cx="566.1" cy="117.2" r="0.7"/><circle cx="571.9" cy="118.8" r="0.7"/><circle cx="584.5" cy="115.4" r="0.7"/><circle cx="599.7" cy="115.4" r="0.7"/><circle cx="610.5" cy="115.9" r="0.7"/><circle cx="577.7" cy="120.9" r="0.7"/><circle cx="584.1" cy="122.6" r="0.7"/><circle cx="592.6" cy="119.9" r="0.7"/><circle cx="604.8" cy="121.5" r="0.7"/><circle cx="566.5" cy="125.3" r="0.7"/><circle cx="573.3" cy="127.6" r="0.7"/><circle cx="580.5" cy="129.3" r="0.7"/><circle cx="589.5" cy="130.3" r="0.7"/><circle cx="598.1" cy="127.2" r="0.7"/><circle cx="608.5" cy="128.0" r="0.7"/><circle cx="566.5" cy="132.6" r="0.7"/><circle cx="574.4" cy="135.5" r="0.7"/><circle cx="583.4" cy="138.5" r="0.7"/><circle cx="592.5" cy="138.5" r="0.7"/><circle cx="600.4" cy="135.5" r="0.7"/><circle cx="567.2" cy="139.4" r="0.7"/><circle cx="574.4" cy="145.2" r="0.7"/><circle cx="583.4" cy="147.5" r="0.7"/><circle cx="592.5" cy="147.3" r="0.7"/><circle cx="600.4" cy="144.8" r="0.7"/><circle cx="564.5" cy="149.0" r="0.7"/><circle cx="571.2" cy="154.7" r="0.7"/><circle cx="580.1" cy="157.0" r="0.7"/><circle cx="589.5" cy="156.5" r="0.7"/><circle cx="567.2" cy="161.2" r="0.7"/><circle cx="575.0" cy="164.5" r="0.7"/></g>
<g fill="#f01414"><circle cx="524.8" cy="139.6" r="2.4"/><circle cx="534.1" cy="139.6" r="2.4"/><circle cx="525.1" cy="148.0" r="2.4"/><circle cx="533.9" cy="148.4" r="2.4"/><circle cx="528.0" cy="157.4" r="2.4"/><circle cx="537.5" cy="157.0" r="2.4"/></g>
<defs><clipPath id="pc"><rect x="55" y="45" width="570" height="392"/></clipPath></defs>
</svg>
</body>
</html>
